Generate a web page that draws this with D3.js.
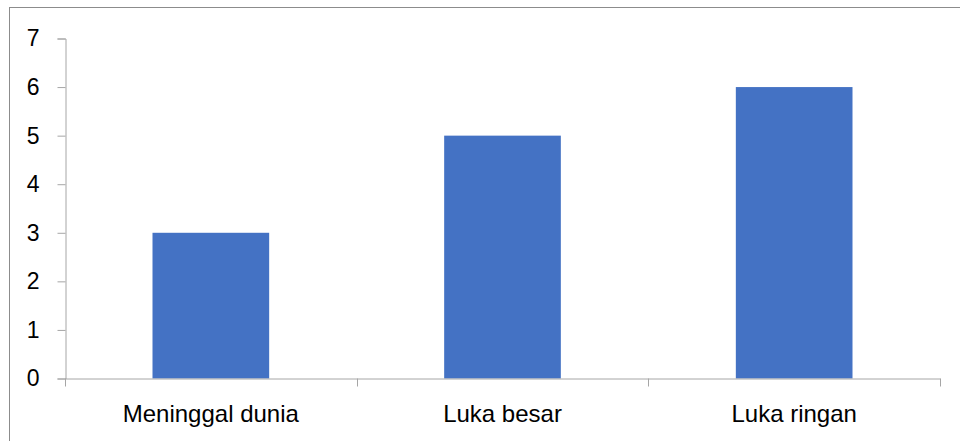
<!DOCTYPE html>
<html><head><meta charset="utf-8">
<script src="https://cdn.jsdelivr.net/npm/d3@7"></script>
<style>body{margin:0;background:#fff}svg{display:block}</style>
</head><body>
<svg id="c" width="960" height="441"></svg>
<script>
const categories = ["Meninggal dunia", "Luka besar", "Luka ringan"];
const values = [3, 5, 6];
const yTicks = [0, 1, 2, 3, 4, 5, 6, 7];

const svg = d3.select("#c");
svg.append("rect").attr("x", 9.5).attr("y", 7.5).attr("width", 960).attr("height", 440)
  .attr("fill", "#fff").attr("stroke", "#8c8c8c").attr("stroke-width", 1);

const x0 = 65, x1 = 940, yTop = 38.5, yBot = 378.5;
const x = d3.scaleBand().domain(categories).range([x0, x1]).paddingInner(0.6).paddingOuter(0.3);
const y = d3.scaleLinear().domain([0, 7]).range([yBot, yTop]);
const font = "'Liberation Sans', Arial, sans-serif";
const axisColor = "#a6a6a6";

svg.selectAll(".bar").data(values).join("rect")
  .attr("x", (d, i) => x(categories[i])).attr("width", x.bandwidth())
  .attr("y", d => y(d)).attr("height", d => y(0) - y(d)).attr("fill", "#4472C4");

// Y axis
const yAxis = svg.append("g").attr("transform", `translate(${x0 + 0.5},0)`)
  .call(d3.axisLeft(y).tickValues(yTicks).tickSize(8).tickPadding(18).tickFormat(d3.format("d")));
yAxis.attr("font-family", font).attr("font-size", 23);
yAxis.select(".domain").attr("stroke", axisColor);
yAxis.selectAll(".tick line").attr("stroke", axisColor);
yAxis.selectAll("text").attr("fill", "#000");

// X axis
svg.append("line").attr("x1", x0).attr("x2", x1 + 0.5).attr("y1", yBot + 0.5).attr("y2", yBot + 0.5)
  .attr("stroke", axisColor);
const bounds = [0, 1, 2, 3].map(i => x0 + i * x.step());
svg.selectAll(".xt").data(bounds).join("line")
  .attr("x1", d => Math.round(d) + 0.5).attr("x2", d => Math.round(d) + 0.5)
  .attr("y1", yBot).attr("y2", yBot + 8).attr("stroke", axisColor);
svg.selectAll(".xl").data(categories).join("text")
  .attr("x", d => x(d) + x.bandwidth() / 2).attr("y", 422)
  .attr("text-anchor", "middle").attr("font-family", font).attr("font-size", 24).attr("fill", "#000")
  .text(d => d);
</script>
</body></html>
